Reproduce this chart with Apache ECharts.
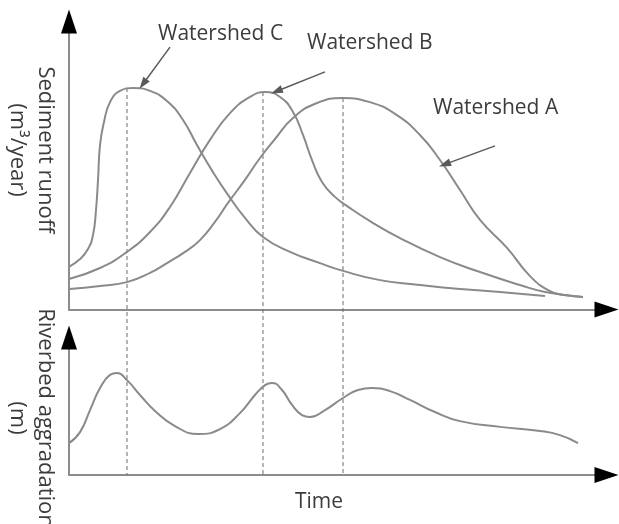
<!DOCTYPE html>
<html><head><meta charset="utf-8">
<script src="https://cdn.jsdelivr.net/npm/echarts@6/dist/echarts.min.js"></script>
<style>html,body{margin:0;padding:0;background:#fff}#c{width:619px;height:524px}</style>
</head><body><div id="c"></div>
<script>
// ---- Data (time 0..100, sediment runoff 0..100, riverbed aggradation 0..50; schematic units) ----
const timeC   = [0, 2.05, 3.53, 4.47, 5.02, 5.4, 5.77, 6.51, 7.63, 9.49, 11.91, 15.07, 18.23, 21.21, 23.81, 26.79, 29.58, 32.74, 36.09, 41.12, 46.7, 50.98, 57.86, 65.3, 72.74, 80.19, 88.56];
const runoffC = [14.8, 17.5, 21.0, 25.9, 34.5, 45.0, 57.1, 65.1, 72.0, 75.9, 76.9, 75.9, 72.4, 65.8, 57.1, 47.7, 39.8, 31.8, 25.2, 20.0, 16.1, 13.4, 10.2, 8.5, 7.1, 6.1, 4.7];

const timeB   = [0, 5.77, 10.79, 15.07, 18.79, 22.51, 26.23, 29.95, 33.67, 36.47, 39.26, 41.67, 43.53, 45.21, 47.07, 49.49, 52.28, 56.0, 61.58, 69.02, 76.47, 83.91, 88.56, 95.63];
const runoffB = [10.6, 14.4, 20.0, 26.9, 35.6, 47.4, 58.9, 68.2, 73.8, 75.5, 73.8, 68.6, 60.6, 51.9, 44.3, 39.1, 35.2, 30.7, 24.8, 18.2, 13.0, 8.5, 6.1, 4.3];

const timeA   = [0, 5.77, 10.79, 15.07, 18.23, 21.58, 24.37, 27.16, 29.58, 32.74, 35.53, 38.33, 41.67, 46.14, 50.98, 56.0, 60.65, 65.3, 69.02, 72.74, 76.47, 81.49, 85.77, 89.49, 92.28, 95.63];
const runoffA = [7.1, 8.2, 9.5, 12.7, 16.1, 20.0, 24.1, 30.4, 37.0, 45.0, 52.6, 59.2, 66.5, 71.7, 73.4, 72.0, 67.9, 60.6, 51.9, 41.5, 31.1, 21.4, 11.6, 6.4, 5.0, 4.3];

const timeR   = [0, 2.05, 3.91, 5.77, 7.63, 8.93, 10.79, 13.21, 16.0, 19.72, 24.0, 28.09, 31.81, 34.6, 36.47, 37.77, 39.63, 41.49, 43.35, 44.84, 47.63, 50.98, 53.77, 56.37, 59.72, 63.44, 68.09, 72.74, 80.19, 87.63, 91.35, 94.7];
const aggrad  = [11.6, 15.6, 23.6, 31.6, 36.4, 37.1, 34.5, 29.1, 23.3, 17.8, 14.9, 16.7, 22.5, 29.1, 32.7, 33.5, 30.9, 25.5, 21.8, 21.1, 23.6, 28.0, 30.9, 31.6, 30.5, 27.3, 22.9, 19.6, 17.5, 16.0, 14.5, 11.6];

// peak times of each watershed (dashed guides) and their runoff at the peak
const peakNames  = ['Watershed C', 'Watershed B', 'Watershed A'];
const peakTimes  = [10.79, 36.09, 50.98];
const peakValues = [76.9, 75.5, 73.4];
const guideBottom = -57.5; // runoff-scale value at the riverbed time axis

// annotation arrows: [startTime, startRunoff, endTime, endRunoff]
const arrowC = [18.79, 91.1, 13.77, 78.3];
const arrowB = [47.63, 82.5, 38.62, 75.8];
const arrowA = [79.26, 56.8, 69.9, 50.4];

const zip = (xs, ys) => xs.map((x, i) => [x, ys[i]]);

const curveColor = '#8a8a8a';
const axisColor = '#8c8c8c';
const textColor = '#3c3c3c';
const FONT = '"Open Sans", "Noto Sans", sans-serif';

function curve(name, data, gi) {
  return {
    name, type: 'line', xAxisIndex: gi * 2, yAxisIndex: gi * 2, data,
    smooth: 0.5, showSymbol: false, symbol: 'none',
    lineStyle: { color: curveColor, width: 2 }, silent: true, z: 3
  };
}

const guideSeries = peakTimes.map((t, i) => ({
  name: peakNames[i] + ' peak', type: 'line', xAxisIndex: 0, yAxisIndex: 0,
  data: [[t, peakValues[i]], [t, guideBottom]], clip: false, showSymbol: false, symbol: 'none',
  lineStyle: { color: '#6a6a6a', width: 1, type: [4, 3] }, silent: true, z: 2
}));

const arrowSeries = {
  type: 'lines', coordinateSystem: 'cartesian2d', xAxisIndex: 0, yAxisIndex: 0,
  symbol: ['none', 'triangle'], symbolSize: [[8, 12], [8, 12]],
  lineStyle: { color: '#5a5a5a', width: 1.5, opacity: 1 }, silent: true, z: 4,
  data: [arrowC, arrowB, arrowA].map(a => ({ coords: [[a[0], a[1]], [a[2], a[3]]] }))
};

function xAx(gi, arrow) {
  return {
    gridIndex: gi, type: 'value', min: 0, max: 100, position: 'bottom',
    axisLine: arrow
      ? { show: true, onZero: false, symbol: ['none', 'triangle'], symbolSize: [16, 24], lineStyle: { color: '#000', width: 0 } }
      : { show: true, onZero: false, lineStyle: { color: axisColor, width: 2 } },
    axisTick: { show: false }, axisLabel: { show: false }, splitLine: { show: false }
  };
}
function yAx(gi, max, arrow) {
  return {
    gridIndex: gi, type: 'value', min: 0, max, position: 'left',
    axisLine: arrow
      ? { show: true, onZero: false, symbol: ['none', 'triangle'], symbolSize: [16, 24], lineStyle: { color: '#000', width: 0 } }
      : { show: true, onZero: false, lineStyle: { color: axisColor, width: 2 } },
    axisTick: { show: false }, axisLabel: { show: false }, splitLine: { show: false }
  };
}

function txt(text, x, y, opts) {
  return Object.assign({
    type: 'text', x, y, silent: true, z: 10,
    style: Object.assign({ text, fill: textColor, fontSize: 21, fontFamily: FONT, align: 'left', verticalAlign: 'middle' }, (opts && opts.style) || {})
  }, opts && opts.rotation != null ? { rotation: opts.rotation } : {});
}

const chart = echarts.init(document.getElementById('c'), null, { renderer: 'canvas' });
chart.setOption({
  animation: false,
  backgroundColor: '#fff',
  grid: [
    { left: 69, top: 21.5, width: 537.5, height: 288, containLabel: false, outerBoundsMode: 'none' },
    { left: 69, top: 337.5, width: 537.5, height: 137.5, containLabel: false, outerBoundsMode: 'none' }
  ],
  xAxis: [xAx(0, false), xAx(0, true), xAx(1, false), xAx(1, true)],
  yAxis: [yAx(0, 100, false), yAx(0, 100, true), yAx(1, 50, false), yAx(1, 50, true)],
  series: [
    curve('Watershed C', zip(timeC, runoffC), 0),
    curve('Watershed B', zip(timeB, runoffB), 0),
    curve('Watershed A', zip(timeA, runoffA), 0),
    Object.assign(curve('Riverbed aggradation', zip(timeR, aggrad), 1), { xAxisIndex: 2, yAxisIndex: 2 }),
    ...guideSeries,
    arrowSeries
  ],
  graphic: [
    txt('Watershed C', 158, 34),
    txt('Watershed B', 307, 43),
    txt('Watershed A', 433, 108),
    txt('Time', 319, 502, { style: { align: 'center' } }),
    txt('Sediment runoff\n(m³/year)', 31, 150, { rotation: -Math.PI / 2, style: { align: 'center', lineHeight: 28, fontSize: 22 } }),
    txt('Riverbed aggradation\n(m)', 31, 418, { rotation: -Math.PI / 2, style: { align: 'center', lineHeight: 28, fontSize: 22 } })
  ]
});
</script>
</body></html>
